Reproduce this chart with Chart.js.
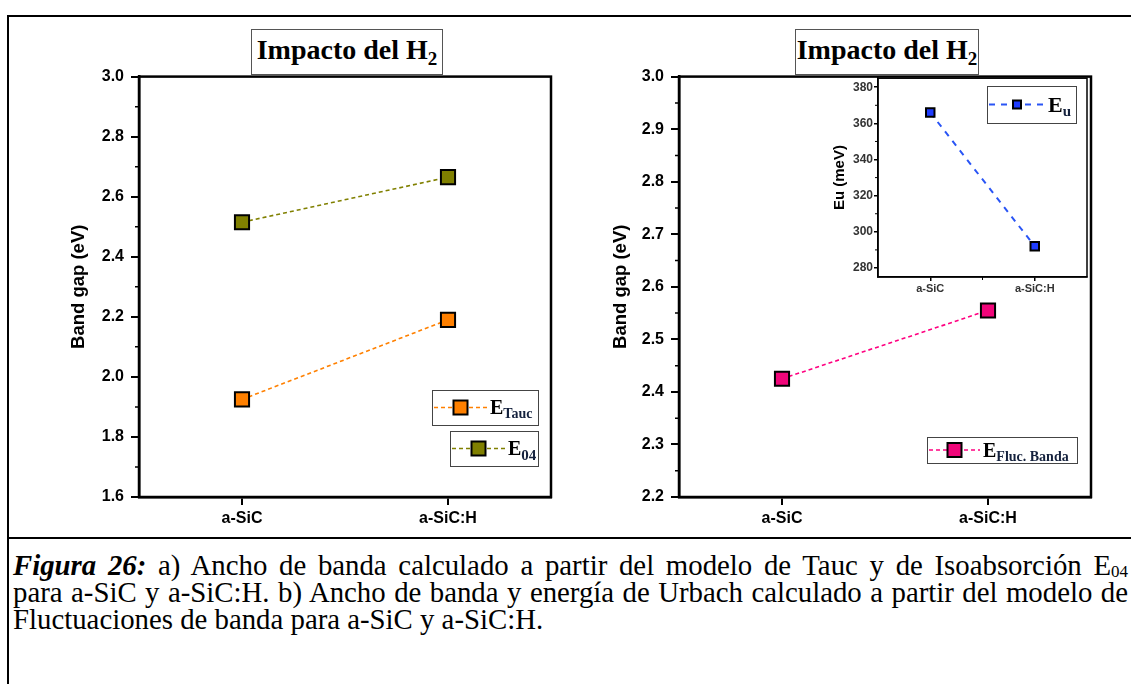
<!DOCTYPE html>
<html lang="es">
<head>
<meta charset="utf-8">
<title>Impacto del H2</title>
<script src="https://cdn.jsdelivr.net/npm/chart.js@4.4.1/dist/chart.umd.min.js"></script>
<style>
  html, body { margin: 0; padding: 0; background: #fff; }
  body { width: 1131px; height: 684px; position: relative; overflow: hidden; }
  .line { position: absolute; background: #000; }
  .chart { position: absolute; }
  .title {
    position: absolute; z-index: 3; background: #fff; border: 1px solid #555;
    font: bold 28px 'Liberation Serif', serif; color: #000;
    text-align: center; line-height: 40px; box-sizing: border-box;
  }
  .title sub { font-size: 19px; vertical-align: -6px; line-height: 0; }
  .caption {
    position: absolute; left: 13px; top: 552px; width: 1115px;
    font: 28.8px 'Liberation Serif', serif; line-height: 27px; color: #000;
  }
  .caption div { white-space: nowrap; }
  .caption div.j { text-align: justify; text-align-last: justify; }
  .caption sub { font-size: 17px; vertical-align: -2px; line-height: 0; }
</style>
</head>
<body>
<div class="line" style="left:7px; top:15px; width:1124px; height:2px;"></div>
<div class="line" style="left:7px; top:15px; width:2px; height:669px;"></div>
<div class="line" style="left:7px; top:537px; width:1124px; height:2px;"></div>

<div class="chart" style="left:40px; top:60px; width:530px; height:480px;"><canvas id="left-chart"></canvas></div>
<div class="chart" style="left:580px; top:60px; width:530px; height:480px;"><canvas id="right-chart"></canvas></div>
<div class="chart" style="left:830px; top:70px; width:265px; height:224px; z-index:2;"><canvas id="inset-chart"></canvas></div>

<div class="title" style="left:251px; top:29px; width:192px; height:46px;">Impacto del H<sub>2</sub></div>
<div class="title" style="left:795px; top:29px; width:184px; height:46px;">Impacto del H<sub>2</sub></div>

<div class="caption">
  <div class="j"><b><i>Figura 26:</i></b> a) Ancho de banda calculado a partir del modelo de Tauc y de Isoabsorción E<sub>04</sub></div>
  <div class="j">para a-SiC y a-SiC:H. b) Ancho de banda y energía de Urbach calculado a partir del modelo de</div>
  <div>Fluctuaciones de banda para a-SiC y a-SiC:H.</div>
</div>

<script>
const categories = ['a-SiC', 'a-SiC:H'];

// a) Tauc e isoabsorcion
const eTauc = [1.925, 2.19];
const e04 = [2.515, 2.665];
const leftTicks = [1.6, 1.8, 2.0, 2.2, 2.4, 2.6, 2.8, 3.0];

// b) fluctuaciones de banda + Urbach (inset)
const eFluc = [2.425, 2.555];
const rightTicks = [2.2, 2.3, 2.4, 2.5, 2.6, 2.7, 2.8, 2.9, 3.0];
const eu = [366, 292];
const insetTicks = [280, 300, 320, 340, 360, 380];

const sans = 'Liberation Sans';
const serif = 'Liberation Serif';

// minor ticks between the major ones + closed frame
const axisExtras = {
  id: 'axisExtras',
  afterDraw(chart, args, opts) {
    const { ctx, chartArea } = chart;
    const y = chart.scales.y;
    ctx.save();
    ctx.strokeStyle = '#000';
    ctx.lineWidth = opts.minorWidth;
    ctx.beginPath();
    for (let i = 0; i < y.ticks.length - 1; i++) {
      const p = y.getPixelForValue((y.ticks[i].value + y.ticks[i + 1].value) / 2);
      ctx.moveTo(chartArea.left, p);
      ctx.lineTo(chartArea.left - opts.minor, p);
    }
    if (opts.xMid) {
      const p = chart.scales.x.getPixelForValue(0.5);
      ctx.moveTo(p, chartArea.bottom);
      ctx.lineTo(p, chartArea.bottom + opts.xMid);
    }
    ctx.stroke();
    ctx.lineWidth = opts.frame;
    ctx.strokeRect(chartArea.left, chartArea.top, chartArea.right - chartArea.left, chartArea.bottom - chartArea.top);
    ctx.restore();
  }
};

// boxed legends with subscript text, like the Origin ones
const boxLegend = {
  id: 'boxLegend',
  afterDraw(chart, args, opts) {
    const ctx = chart.ctx;
    opts.items.forEach(it => {
      const ds = chart.data.datasets[it.dataset];
      const cy = it.y + it.h / 2;
      ctx.save();
      ctx.fillStyle = '#fff';
      ctx.fillRect(it.x, it.y, it.w, it.h);
      ctx.strokeStyle = '#444';
      ctx.lineWidth = 1;
      ctx.strokeRect(it.x + 0.5, it.y + 0.5, it.w, it.h);

      ctx.strokeStyle = ds.borderColor;
      ctx.lineWidth = ds.borderWidth;
      ctx.setLineDash(ds.borderDash);
      ctx.beginPath();
      ctx.moveTo(it.x + 2, cy);
      ctx.lineTo(it.x + it.line, cy);
      ctx.stroke();
      ctx.setLineDash([]);

      const mx = it.x + 2 + (it.line - 2) / 2;
      ctx.fillStyle = ds.pointBackgroundColor;
      ctx.fillRect(mx - it.m / 2, cy - it.m / 2, it.m, it.m);
      ctx.strokeStyle = '#000';
      ctx.lineWidth = ds.pointBorderWidth;
      ctx.strokeRect(mx - it.m / 2, cy - it.m / 2, it.m, it.m);

      const tx = it.x + it.line + 3;
      ctx.fillStyle = '#000';
      ctx.textBaseline = 'alphabetic';
      ctx.font = `bold ${it.big}px "${serif}"`;
      ctx.fillText(it.label, tx, cy + it.big * 0.33);
      const w = ctx.measureText(it.label).width;
      ctx.fillStyle = '#14213d';
      ctx.font = `bold ${it.small}px "${serif}"`;
      ctx.fillText(it.sub, tx + w, cy + it.big * 0.33 + it.small * 0.3);
      ctx.restore();
    });
  }
};

function lineSet(label, data, color, fill, radius, dash, width) {
  return {
    label: label,
    data: data,
    borderColor: color,
    borderWidth: width,
    borderDash: dash,
    pointStyle: 'rect',
    pointRadius: radius,
    pointHoverRadius: radius,
    pointBackgroundColor: fill,
    pointBorderColor: '#000',
    pointBorderWidth: 2,
    tension: 0,
    fill: false,
  };
}

function mainOptions(ticks, min, max, extras, legendItems) {
  return {
    responsive: true,
    maintainAspectRatio: false,
    animation: false,
    events: [],
    layout: { padding: { top: 14, right: 19, left: 0, bottom: 0 } },
    plugins: {
      legend: { display: false },
      tooltip: { enabled: false },
      axisExtras: extras,
      boxLegend: { items: legendItems },
    },
    scales: {
      x: {
        type: 'category',
        offset: true,
        grid: { display: true, drawOnChartArea: false, offset: false, tickLength: 8, color: '#000', lineWidth: 2 },
        border: { color: '#000', width: 2.5 },
        ticks: { color: '#000', font: { family: sans, weight: 'bold', size: 16 }, padding: 4, maxRotation: 0 },
        afterFit: s => { s.height = 43; },
      },
      y: {
        min: min,
        max: max,
        afterBuildTicks: s => { s.ticks = ticks.map(v => ({ value: v })); },
        grid: { display: true, drawOnChartArea: false, tickLength: 8, color: '#000', lineWidth: 2 },
        border: { color: '#000', width: 2.5 },
        ticks: {
          color: '#000',
          font: { family: sans, weight: 'bold', size: 16 },
          padding: 7,
          callback: v => v.toFixed(1),
        },
        title: {
          display: true,
          text: 'Band gap (eV)',
          color: '#000',
          font: { family: sans, weight: 'bold', size: 18.5 },
          padding: { top: 28, bottom: 0 },
        },
        afterFit: s => { s.width = 99; },
      }
    }
  };
}

new Chart(document.getElementById('left-chart'), {
  type: 'line',
  data: {
    labels: categories,
    datasets: [
      lineSet('E Tauc', eTauc, '#ff8000', '#ff8000', 10, [4, 3], 1.6),
      lineSet('E 04', e04, '#808000', '#808000', 10, [4, 3], 1.6),
    ]
  },
  options: mainOptions(leftTicks, 1.6, 3.0,
    { minor: 4, minorWidth: 1.5, frame: 2.5 },
    [
      { dataset: 0, x: 392, y: 330, w: 106, h: 35, line: 55, m: 14, big: 20, small: 14, label: 'E', sub: 'Tauc' },
      { dataset: 1, x: 410, y: 371, w: 88, h: 35, line: 55, m: 14, big: 20, small: 15, label: 'E', sub: '04' },
    ]),
  plugins: [axisExtras, boxLegend],
});

const rightOpts = mainOptions(rightTicks, 2.2, 3.0,
  { minor: 4, minorWidth: 1.5, frame: 2.5 },
  [
    { dataset: 0, x: 347, y: 377, w: 150, h: 26, line: 53, m: 14, big: 20, small: 14, label: 'E', sub: 'Fluc. Banda' },
  ]);
rightOpts.scales.y.title.padding = { top: 30, bottom: 0 };

new Chart(document.getElementById('right-chart'), {
  type: 'line',
  data: {
    labels: categories,
    datasets: [
      lineSet('E Fluc. Banda', eFluc, '#ff0080', '#f0067a', 10, [4, 3], 1.6),
    ]
  },
  options: rightOpts,
  plugins: [axisExtras, boxLegend],
});

new Chart(document.getElementById('inset-chart'), {
  type: 'line',
  data: {
    labels: categories,
    datasets: [
      lineSet('Eu', eu, '#2a55f5', '#1f3cff', 6, [6, 6], 2),
    ]
  },
  options: {
    responsive: true,
    maintainAspectRatio: false,
    animation: false,
    events: [],
    layout: { padding: { top: 4, right: 4, left: 0, bottom: 0 } },
    plugins: {
      legend: { display: false },
      tooltip: { enabled: false },
      axisExtras: { minor: 3, minorWidth: 1, frame: 1.5, xMid: 3 },
      boxLegend: { items: [
        { dataset: 0, x: 157, y: 16, w: 89, h: 37, line: 58, m: 8, big: 22, small: 15, label: 'E', sub: 'u' },
      ] },
    },
    scales: {
      x: {
        type: 'category',
        offset: true,
        grid: { display: true, drawOnChartArea: false, offset: false, tickLength: 4, color: '#000', lineWidth: 1.5 },
        border: { color: '#000', width: 1.5 },
        ticks: { color: '#333', font: { family: sans, weight: 'bold', size: 11 }, padding: 1, maxRotation: 0 },
        afterFit: s => { s.height = 17; },
      },
      y: {
        min: 275,
        max: 385,
        afterBuildTicks: s => { s.ticks = insetTicks.map(v => ({ value: v })); },
        grid: { display: true, drawOnChartArea: false, tickLength: 4, color: '#000', lineWidth: 1.5 },
        border: { color: '#000', width: 1.5 },
        ticks: { color: '#333', font: { family: sans, weight: 'bold', size: 12 }, padding: 1 },
        title: {
          display: true,
          text: 'Eu (meV)',
          color: '#000',
          font: { family: sans, weight: 'bold', size: 15 },
          padding: { top: 1, bottom: 0 },
        },
        afterFit: s => { s.width = 48; },
      }
    }
  },
  plugins: [axisExtras, boxLegend],
});
</script>
</body>
</html>
